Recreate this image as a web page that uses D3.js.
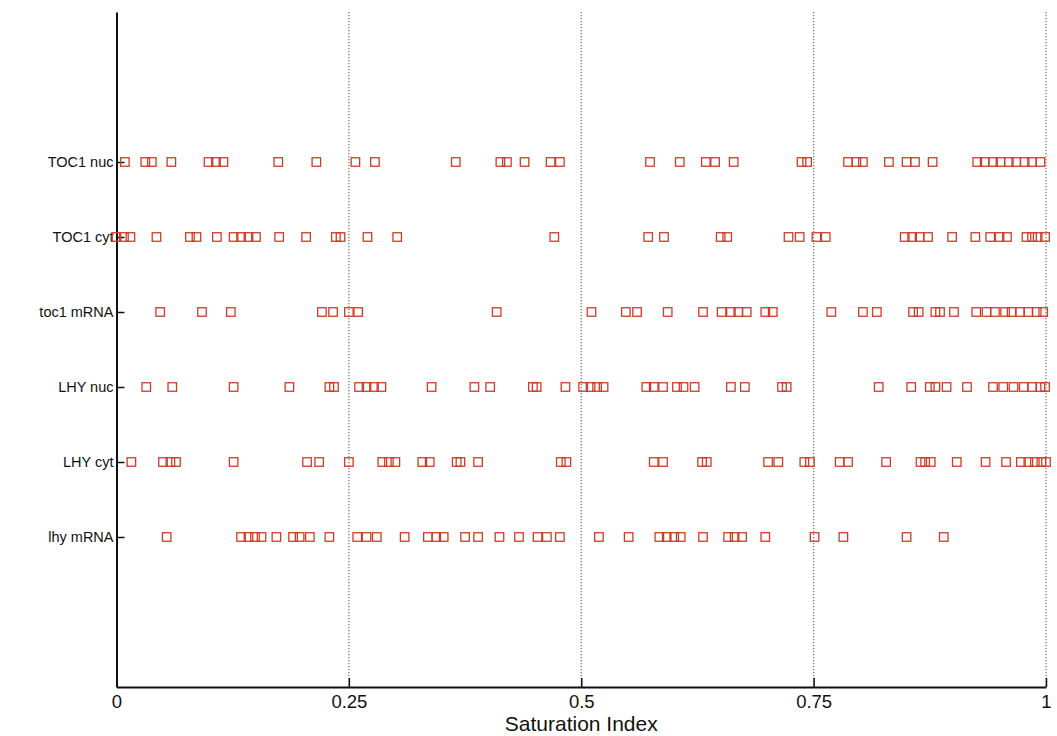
<!DOCTYPE html>
<html>
<head>
<meta charset="utf-8">
<script src="https://cdn.jsdelivr.net/npm/d3@7"></script>
<style>
  body { margin: 0; background: #ffffff; }
  svg text { font-family: "Liberation Sans", Arial, Helvetica, sans-serif; fill: #111; }
</style>
</head>
<body>
<svg id="chart" width="1057" height="736"></svg>
<script>
// Variables, listed bottom to top
const categories = ["lhy mRNA", "LHY cyt", "LHY nuc", "toc1 mRNA", "TOC1 cyt", "TOC1 nuc"];

// Saturation index of each parameter affecting the variable
const tocNuc = [0.009, 0.031, 0.038, 0.059, 0.099, 0.107, 0.115, 0.174, 0.215, 0.257, 0.278,
  0.365, 0.413, 0.420, 0.439, 0.467, 0.477, 0.574, 0.606, 0.634, 0.644, 0.664, 0.737, 0.743,
  0.787, 0.796, 0.803, 0.831, 0.850, 0.859, 0.878, 0.926, 0.934, 0.943, 0.951, 0.960, 0.968,
  0.977, 0.985, 0.994];
const tocCyt = [0.000, 0.008, 0.015, 0.043, 0.079, 0.086, 0.108, 0.126, 0.134, 0.142, 0.150,
  0.175, 0.204, 0.236, 0.241, 0.270, 0.302, 0.471, 0.572, 0.589, 0.650, 0.657, 0.723, 0.735,
  0.753, 0.763, 0.848, 0.856, 0.864, 0.873, 0.899, 0.924, 0.940, 0.950, 0.958, 0.979, 0.985,
  0.991, 0.999];
const tocMrna = [0.047, 0.092, 0.123, 0.221, 0.233, 0.250, 0.260, 0.409, 0.511, 0.548, 0.560,
  0.593, 0.631, 0.651, 0.661, 0.669, 0.678, 0.698, 0.706, 0.769, 0.803, 0.818, 0.857, 0.863,
  0.881, 0.886, 0.901, 0.925, 0.936, 0.945, 0.956, 0.963, 0.972, 0.981, 0.990, 0.997];
const lhyNuc = [0.032, 0.060, 0.126, 0.186, 0.229, 0.234, 0.261, 0.269, 0.277, 0.285, 0.339,
  0.385, 0.402, 0.448, 0.452, 0.483, 0.502, 0.510, 0.517, 0.524, 0.570, 0.578, 0.588, 0.603,
  0.610, 0.622, 0.661, 0.676, 0.716, 0.721, 0.820, 0.855, 0.875, 0.881, 0.893, 0.915, 0.943,
  0.954, 0.965, 0.976, 0.985, 0.994, 0.999];
const lhyCyt = [0.016, 0.050, 0.058, 0.064, 0.126, 0.205, 0.218, 0.250, 0.286, 0.293, 0.300,
  0.329, 0.337, 0.366, 0.370, 0.389, 0.478, 0.484, 0.578, 0.588, 0.630, 0.635, 0.701, 0.712,
  0.740, 0.746, 0.778, 0.787, 0.828, 0.865, 0.870, 0.876, 0.904, 0.935, 0.957, 0.973, 0.981,
  0.988, 0.995, 1.000];
const lhyMrna = [0.054, 0.134, 0.142, 0.149, 0.156, 0.172, 0.190, 0.197, 0.208, 0.229, 0.259,
  0.269, 0.280, 0.310, 0.335, 0.344, 0.352, 0.375, 0.389, 0.412, 0.433, 0.453, 0.463, 0.477,
  0.519, 0.551, 0.584, 0.592, 0.600, 0.607, 0.631, 0.658, 0.665, 0.673, 0.698, 0.751, 0.782,
  0.850, 0.890];

const seriesValues = [lhyMrna, lhyCyt, lhyNuc, tocMrna, tocCyt, tocNuc];

const xTicks = [0, 0.25, 0.5, 0.75, 1];
const xTickLabels = ["0", "0.25", "0.5", "0.75", "1"];
const xTitle = "Saturation Index";

// ---- layout ----
const svg = d3.select("#chart");
const plotLeft = 116.5, plotRight = 1046, plotTop = 12, plotBottom = 687;
const markerSize = 8.5;
const markerColor = "#cf3b27";

const x = d3.scaleLinear().domain([0, 1]).range([plotLeft, plotRight]);
const y = d3.scalePoint().domain(categories).range([plotBottom, plotTop]).padding(2);

// dotted guides at the interior ticks
svg.append("g")
  .selectAll("line")
  .data(xTicks.filter(d => d > 0))
  .join("line")
  .attr("x1", d => x(d)).attr("x2", d => x(d))
  .attr("y1", plotTop).attr("y2", plotBottom)
  .attr("stroke", "#777")
  .attr("stroke-width", 1.3)
  .attr("stroke-dasharray", "1.3,1.7");

// x axis
const xAxis = svg.append("g")
  .attr("transform", `translate(0,${plotBottom})`)
  .call(d3.axisBottom(x)
    .tickValues(xTicks)
    .tickFormat((d, i) => xTickLabels[i])
    .tickSizeInner(-9)
    .tickSizeOuter(0)
    .tickPadding(8));
xAxis.select(".domain").attr("stroke", "#111").attr("stroke-width", 2);
xAxis.selectAll(".tick line").attr("stroke", "#111").attr("stroke-width", 1.5);
xAxis.selectAll(".tick text").attr("font-size", 18.5).attr("fill", "#111");

// y axis
const yAxis = svg.append("g")
  .attr("transform", `translate(${plotLeft},0)`)
  .call(d3.axisLeft(y)
    .tickSizeInner(-8)
    .tickSizeOuter(0)
    .tickPadding(3));
yAxis.select(".domain").attr("stroke", "#111").attr("stroke-width", 2);
yAxis.selectAll(".tick line").attr("stroke", "#111").attr("stroke-width", 1.5);
yAxis.selectAll(".tick text").attr("font-size", 14.5).attr("fill", "#111");

// axis title
svg.append("text")
  .attr("x", (plotLeft + plotRight) / 2)
  .attr("y", 731)
  .attr("text-anchor", "middle")
  .attr("font-size", 21)
  .text(xTitle);

// open square markers
const points = categories.flatMap((c, i) => seriesValues[i].map(v => ({ c, v })));
svg.append("g")
  .selectAll("rect")
  .data(points)
  .join("rect")
  .attr("x", d => x(d.v) - markerSize / 2)
  .attr("y", d => y(d.c) - markerSize / 2)
  .attr("width", markerSize)
  .attr("height", markerSize)
  .attr("fill", "none")
  .attr("stroke", markerColor)
  .attr("stroke-width", 1.3);
</script>
</body>
</html>
